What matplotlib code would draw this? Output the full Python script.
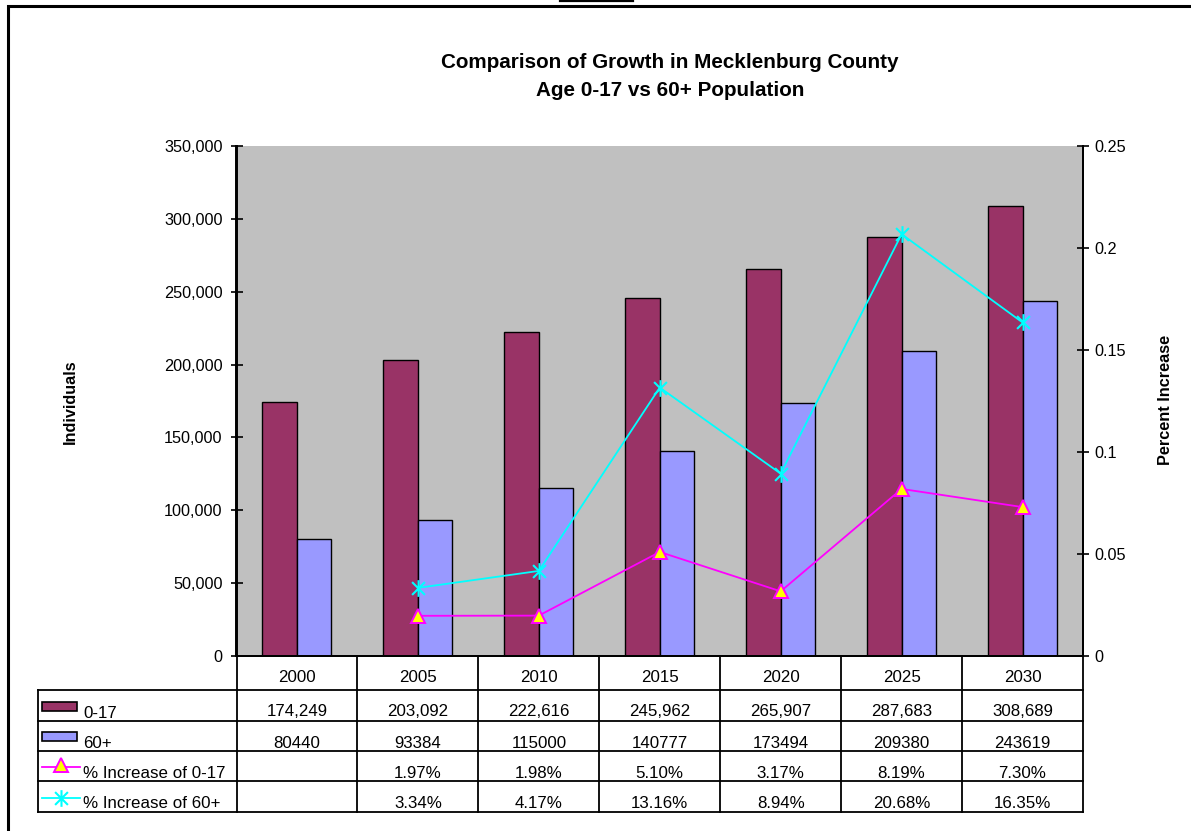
import numpy as np
import matplotlib
matplotlib.use("Agg")
import matplotlib.pyplot as plt
from matplotlib.path import Path
from matplotlib.patches import Rectangle

plt.rcParams['font.family'] = ['Liberation Sans', 'DejaVu Sans']

# data
years = ['2000', '2005', '2010', '2015', '2020', '2025', '2030']
age_0_17 = [174249, 203092, 222616, 245962, 265907, 287683, 308689]
age_60_plus = [80440, 93384, 115000, 140777, 173494, 209380, 243619]
pct_0_17 = [1.97, 1.98, 5.10, 3.17, 8.19, 7.30]      # percent, from 2005 on
pct_60_plus = [3.34, 4.17, 13.16, 8.94, 20.68, 16.35]

W, H = 1191, 831
fig = plt.figure(figsize=(W / 100, H / 100), dpi=100)
fig.patch.set_facecolor('white')


def fig_box(x0, y0, x1, y1):
    # pixel box (top-left origin) -> figure fraction rect
    return [x0 / W, 1 - y1 / H, (x1 - x0) / W, (y1 - y0) / H]


PL, PR, PT, PB = 236.5, 1083, 146, 656
ax = fig.add_axes(fig_box(PL, PT, PR, PB))
ax.set_facecolor('#C0C0C0')

x = np.arange(len(years))
bw = 0.285
ax.bar(x - bw / 2, age_0_17, bw, color='#993366', edgecolor='black', linewidth=1.0, zorder=2)
ax.bar(x + bw / 2, age_60_plus, bw, color='#9999FF', edgecolor='black', linewidth=1.0, zorder=2)
ax.set_xlim(-0.5, len(years) - 0.5)
ax.set_ylim(0, 350000)
ax.set_yticks(np.arange(0, 350001, 50000))
ax.set_yticklabels([f"{v:,}" for v in np.arange(0, 350001, 50000)])
ax.set_xticks([])
ax.tick_params(axis='y', direction='inout', length=8, width=1.2, labelsize=11.7, pad=6)
for s in ['left', 'right', 'bottom']:
    ax.spines[s].set_linewidth(1.4)
ax.spines['top'].set_visible(False)

# asterisk marker: an X with a vertical stroke
star = Path([(-1, -1), (1, 1), (-1, 1), (1, -1), (0, -1.3), (0, 1.3)],
            [Path.MOVETO, Path.LINETO, Path.MOVETO, Path.LINETO, Path.MOVETO, Path.LINETO])

ax2 = ax.twinx()
ax2.set_ylim(0, 0.25)
ax2.plot(x[1:], np.array(pct_0_17) / 100, color='#FF00FF', lw=1.3, marker='^', ms=10,
         mfc='#FFFF00', mec='#FF00FF', mew=1.4, zorder=3)
ax2.plot(x[1:], np.array(pct_60_plus) / 100, color='#00FFFF', lw=1.3, marker=star, ms=12,
         mfc='none', mec='#00FFFF', mew=1.5, zorder=3)
ax2.set_yticks([0, 0.05, 0.1, 0.15, 0.2, 0.25])
ax2.set_yticklabels(['0', '0.05', '0.1', '0.15', '0.2', '0.25'])
ax2.tick_params(axis='y', direction='inout', length=8, width=1.2, labelsize=11.7, pad=4)
for s in ['left', 'right', 'bottom']:
    ax2.spines[s].set_linewidth(1.4)
ax2.spines['top'].set_visible(False)

# overlay in pixel coordinates for title, labels, border and data table
ov = fig.add_axes([0, 0, 1, 1], zorder=5)
ov.set_xlim(0, W)
ov.set_ylim(H, 0)
ov.axis('off')
ov.patch.set_alpha(0)

ov.text(670, 62, 'Comparison of Growth in Mecklenburg County', ha='center', va='center',
        fontsize=14.9, fontweight='bold')
ov.text(670, 90, 'Age 0-17 vs 60+ Population', ha='center', va='center',
        fontsize=14.9, fontweight='bold')
ov.text(70, 402, 'Individuals', rotation=90, ha='center', va='center', fontsize=11.7, fontweight='bold')
ov.text(1165, 400, 'Percent Increase', rotation=90, ha='center', va='center', fontsize=11.7,
        fontweight='bold')

# outer frame
ov.plot([8, 8, W + 5], [H + 5, 6, 6], color='black', lw=2.2, solid_joinstyle='miter')
ov.plot([560, 633], [1, 1], color='black', lw=1.6)

# data table
col_w = (PR - PL) / len(years)
cols = [PL + i * col_w for i in range(len(years) + 1)]
rows = [690, 721, 751, 781, 812]
tlw = 1.3
for cx in cols:
    ov.plot([cx, cx], [PB, rows[-1]], color='black', lw=tlw)
for ry in rows:
    ov.plot([38, PR], [ry, ry], color='black', lw=tlw)
ov.plot([38, 38], [rows[0], rows[-1]], color='black', lw=tlw)

fs = 12.2
for i, yr in enumerate(years):
    cx = (cols[i] + cols[i + 1]) / 2
    ov.text(cx, PB + 22, yr, ha='center', va='center', fontsize=fs)
    ov.text(cx, rows[0] + 22, f"{age_0_17[i]:,}", ha='center', va='center', fontsize=fs)
    ov.text(cx, rows[1] + 22, f"{age_60_plus[i]}", ha='center', va='center', fontsize=fs)
    if i > 0:
        ov.text(cx, rows[2] + 22, f"{pct_0_17[i - 1]:.2f}%", ha='center', va='center', fontsize=fs)
        ov.text(cx, rows[3] + 22, f"{pct_60_plus[i - 1]:.2f}%", ha='center', va='center', fontsize=fs)

# legend keys in the first column
ov.add_patch(Rectangle((42, rows[0] + 12), 35, 9, facecolor='#993366', edgecolor='black', lw=1.2))
ov.add_patch(Rectangle((42, rows[1] + 11), 35, 9, facecolor='#9999FF', edgecolor='black', lw=1.2))
ov.plot([42, 80], [rows[2] + 16, rows[2] + 16], color='#FF00FF', lw=1.3)
ov.plot([61], [rows[2] + 14], marker='^', ms=10, mfc='#FFFF00', mec='#FF00FF', mew=1.4)
ov.plot([42, 80], [rows[3] + 17, rows[3] + 17], color='#00FFFF', lw=1.3)
ov.plot([61], [rows[3] + 17], marker=star, ms=12, mfc='none', mec='#00FFFF', mew=1.5)
labels = ['0-17', '60+', '% Increase of 0-17', '% Increase of 60+']
for r, lab in enumerate(labels):
    ov.text(83, rows[r] + 23, lab, ha='left', va='center', fontsize=fs)

fig.savefig('out.png', dpi=100)
